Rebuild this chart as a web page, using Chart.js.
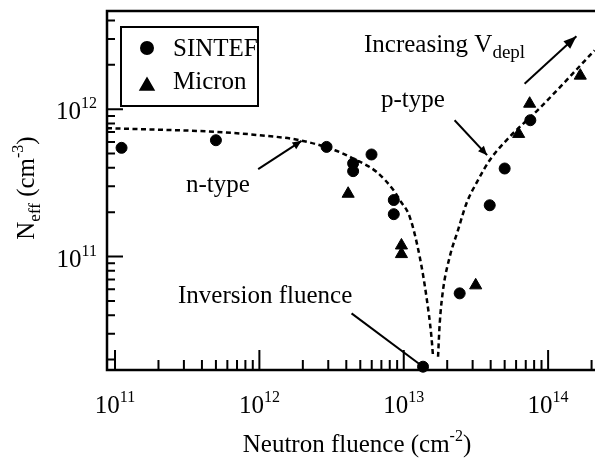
<!DOCTYPE html>
<html>
<head>
<meta charset="utf-8">
<script src="https://cdn.jsdelivr.net/npm/chart.js@4.4.0/dist/chart.umd.min.js"></script>
<style>
  html, body { margin: 0; padding: 0; background: #fff; overflow: hidden; }
  #wrap { width: 595px; height: 464px; overflow: hidden; }
  canvas { display: block; }
</style>
</head>
<body>
<div id="wrap"><canvas id="chart" width="625" height="464"></canvas></div>
<script>
// values (fluence in cm^-2, Neff in cm^-3)
const sintefFluence = [1.11e11, 5.0e11, 2.92e12, 4.46e12, 4.46e12, 5.98e12, 8.53e12, 8.53e12, 1.36e13, 2.44e13, 3.94e13, 5.0e13, 7.53e13];
const sintefNeff    = [5.47e11, 6.16e11, 5.55e11, 4.29e11, 3.80e11, 4.93e11, 2.42e11, 1.94e11, 1.79e10, 5.63e10, 2.23e11, 3.96e11, 8.42e11];

const micronFluence = [4.12e12, 9.64e12, 9.64e12, 3.15e13, 6.25e13, 7.45e13, 1.67e14];
const micronNeff    = [2.67e11, 1.19e11, 1.04e11, 6.38e10, 6.80e11, 1.09e12, 1.69e12];

// dashed guide curve, n-type side and p-type side
const nBranchFluence = [8.8e10, 2.05e11, 5.06e11, 1.008e12, 1.907e12, 3.33e12, 4.46e12, 6.47e12, 8.66e12, 9.38e12, 1.10e13, 1.29e13, 1.436e13, 1.555e13, 1.596e13];
const nBranchNeff    = [7.43e11, 7.26e11, 7.02e11, 6.66e11, 6.16e11, 5.27e11, 4.63e11, 3.76e11, 2.75e11, 2.42e11, 1.86e11, 9.97e10, 5.34e10, 2.86e10, 2.09e10];
const pBranchFluence = [1.728e13, 1.775e13, 1.871e13, 2.082e13, 2.376e13, 2.717e13, 3.268e13, 3.937e13, 5.415e13, 8.73e13, 2.10e14];
const pBranchNeff    = [2.09e10, 3.52e10, 5.93e10, 9.97e10, 1.512e11, 2.294e11, 3.30e11, 4.51e11, 6.49e11, 1.016e12, 2.51e12];

// tick labels (powers of ten)
const xTickExponents = [11, 12, 13, 14];
const yTickExponents = [11, 12];

const FONT = '"Liberation Serif", "Times New Roman", serif';

function toPoints(xs, ys) {
    return xs.map((x, i) => ({ x: x, y: ys[i] }));
}

// draw a run of text pieces [text, size, rise]
function richText(ctx, parts, x, y, align) {
    let w = 0;
    parts.forEach(p => { ctx.font = p[1] + 'px ' + FONT; w += ctx.measureText(p[0]).width; });
    let cx = align === 'center' ? x - w / 2 : (align === 'right' ? x - w : x);
    ctx.textAlign = 'left';
    ctx.textBaseline = 'alphabetic';
    parts.forEach(p => {
        ctx.font = p[1] + 'px ' + FONT;
        ctx.fillText(p[0], cx, y - p[2]);
        cx += ctx.measureText(p[0]).width;
    });
}

function arrow(ctx, x1, y1, x2, y2, len, half) {
    ctx.beginPath();
    ctx.moveTo(x1, y1);
    ctx.lineTo(x2, y2);
    ctx.stroke();
    if (!len) return;
    const a = Math.atan2(y2 - y1, x2 - x1);
    ctx.beginPath();
    ctx.moveTo(x2, y2);
    ctx.lineTo(x2 - len * Math.cos(a) + half * Math.sin(a), y2 - len * Math.sin(a) - half * Math.cos(a));
    ctx.lineTo(x2 - len * Math.cos(a) - half * Math.sin(a), y2 - len * Math.sin(a) + half * Math.cos(a));
    ctx.closePath();
    ctx.fill();
}

const figurePlugin = {
    id: 'figure',
    beforeDatasetsDraw(chart) {
        const ctx = chart.ctx;
        const a = chart.chartArea;
        const xs = chart.scales.x, ys = chart.scales.y;
        ctx.save();
        ctx.strokeStyle = '#000';
        ctx.lineWidth = 2.5;
        ctx.strokeRect(a.left, a.top, a.right - a.left, a.bottom - a.top);

        ctx.lineWidth = 2;
        ctx.beginPath();
        for (let e = 10; e <= 14; e++) {
            for (let m = 1; m <= 9; m++) {
                const v = m * Math.pow(10, e);
                if (v > xs.min && v < xs.max && e >= 11) {
                    const p = xs.getPixelForValue(v);
                    ctx.moveTo(p, a.bottom);
                    ctx.lineTo(p, a.bottom - (m === 1 ? 20 : 10));
                }
                if (v > ys.min && v < ys.max) {
                    const p = ys.getPixelForValue(v);
                    ctx.moveTo(a.left, p);
                    ctx.lineTo(a.left + (m === 1 ? 16 : 8), p);
                }
            }
        }
        ctx.stroke();
        ctx.restore();
    },
    afterDatasetsDraw(chart) {
        const ctx = chart.ctx;
        const a = chart.chartArea;
        const xs = chart.scales.x, ys = chart.scales.y;
        const X = v => xs.getPixelForValue(v), Y = v => ys.getPixelForValue(v);
        ctx.save();
        ctx.fillStyle = '#000';
        ctx.strokeStyle = '#000';

        // tick labels
        xTickExponents.forEach(e => {
            richText(ctx, [['10', 25, 0], [String(e), 16, 11]], X(Math.pow(10, e)), a.bottom + 43, 'center');
        });
        yTickExponents.forEach(e => {
            richText(ctx, [['10', 25, 0], [String(e), 16, 11]], a.left - 10, Y(Math.pow(10, e)) + 10, 'right');
        });

        // axis titles
        richText(ctx, [['Neutron fluence (cm', 25, 0], ['-2', 16, 11], [')', 25, 0]], 357, 452, 'center');
        ctx.save();
        ctx.translate(34, 188);
        ctx.rotate(-Math.PI / 2);
        richText(ctx, [['N', 25, 0], ['eff', 17, -6], [' (cm', 25, 0], ['-3', 16, 11], [')', 25, 0]], 0, 0, 'center');
        ctx.restore();

        // legend
        ctx.lineWidth = 2;
        ctx.strokeRect(121, 27, 137, 79);
        Chart.helpers.drawPoint(ctx, { pointStyle: 'circle', radius: 6, borderWidth: 1 }, 147, 48);
        Chart.helpers.drawPoint(ctx, { pointStyle: 'triangle', radius: 7.5, borderWidth: 1 }, 147, 86);
        richText(ctx, [['SINTEF', 25, 0]], 173, 56, 'left');
        richText(ctx, [['Micron', 25, 0]], 173, 89, 'left');

        // annotations
        ctx.lineWidth = 2;
        richText(ctx, [['n-type', 25, 0]], 186, 192, 'left');
        arrow(ctx, X(9.81e11), Y(3.92e11), X(1.96e12), Y(6.10e11), 9, 4);
        richText(ctx, [['p-type', 25, 0]], 381, 107, 'left');
        arrow(ctx, X(2.25e13), Y(8.42e11), X(3.78e13), Y(4.88e11), 9, 4);
        richText(ctx, [['Increasing V', 25, 0], ['depl', 19, -6]], 364, 52, 'left');
        arrow(ctx, X(6.87e13), Y(1.49e12), X(1.57e14), Y(3.13e12), 13, 5);
        richText(ctx, [['Inversion fluence', 25, 0]], 178, 303, 'left');
        arrow(ctx, X(4.35e12), Y(4.12e10), X(1.36e13), Y(1.79e10), 0, 0);
        ctx.restore();
    }
};

const curveStyle = {
    showLine: true,
    borderColor: '#000',
    borderWidth: 2.5,
    borderDash: [5, 3.5],
    pointRadius: 0,
    cubicInterpolationMode: 'monotone',
    order: 2
};

new Chart(document.getElementById('chart'), {
    type: 'scatter',
    data: {
        datasets: [{
            label: 'SINTEF',
            data: toPoints(sintefFluence, sintefNeff),
            pointStyle: 'circle',
            pointRadius: 5.5,
            backgroundColor: '#000',
            borderColor: '#000',
            clip: false,
            order: 0
        }, {
            label: 'Micron',
            data: toPoints(micronFluence, micronNeff),
            pointStyle: 'triangle',
            pointRadius: 7,
            backgroundColor: '#000',
            borderColor: '#000',
            clip: false,
            order: 1
        }, Object.assign({ label: 'n-type', data: toPoints(nBranchFluence, nBranchNeff) }, curveStyle),
           Object.assign({ label: 'p-type', data: toPoints(pBranchFluence, pBranchNeff) }, curveStyle)
        ]
    },
    options: {
        responsive: false,
        animation: false,
        events: [],
        layout: { padding: { left: 107, top: 11, right: 7.6, bottom: 94 } },
        scales: {
            x: { type: 'logarithmic', min: 8.8e10, max: 3e14, display: false },
            y: { type: 'logarithmic', min: 1.7e10, max: 4.64e12, display: false }
        },
        plugins: {
            legend: { display: false },
            tooltip: { enabled: false }
        }
    },
    plugins: [figurePlugin]
});
</script>
</body>
</html>
